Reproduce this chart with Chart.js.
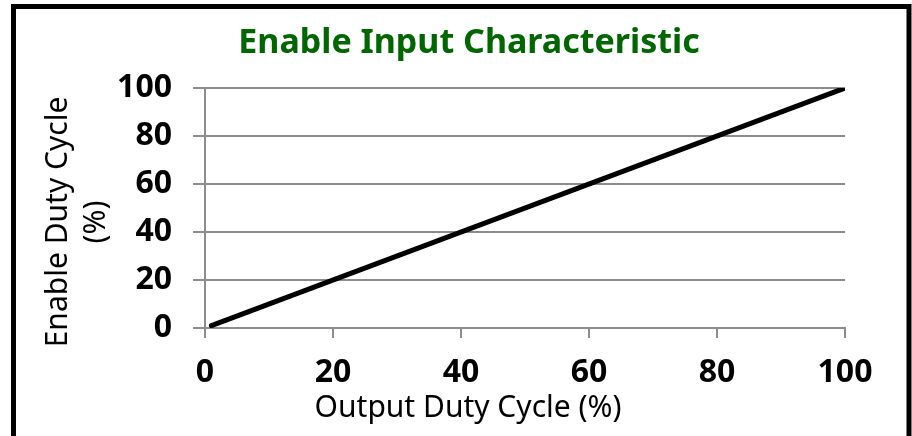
<!DOCTYPE html>
<html>
<head>
<meta charset="utf-8">
<script src="https://cdn.jsdelivr.net/npm/chart.js@4/dist/chart.umd.min.js"></script>
<style>
  html, body { margin: 0; padding: 0; background: #ffffff; }
  #wrap { width: 912px; height: 436px; position: relative; }
</style>
</head>
<body>
<div id="wrap"><canvas id="c" width="912" height="436"></canvas></div>
<script>
// ---- data ----
const chartTitle = "Enable Input Characteristic";
const xAxisTitle = "Output Duty Cycle (%)";
const yAxisTitle = ["Enable Duty Cycle", "(%)"];
const outputDuty = [1, 100];   // x values (%)
const enableDuty = [1, 100];   // y values (%)
const xTicks = [0, 20, 40, 60, 80, 100];
const yTicks = [0, 20, 40, 60, 80, 100];

const FONT = "'Noto Sans', 'Open Sans', sans-serif";
const GRID = '#8c8c8c';

const points = outputDuty.map((x, i) => ({ x: x, y: enableDuty[i] }));

const decor = {
  id: 'decor',
  afterDraw(chart) {
    const ctx = chart.ctx;
    ctx.save();
    // chart title
    ctx.fillStyle = '#006600';
    ctx.font = "bold 34px " + FONT;
    ctx.textAlign = 'center';
    ctx.textBaseline = 'alphabetic';
    ctx.fillText(chartTitle, 469, 53);
    // x axis title
    ctx.fillStyle = '#000000';
    ctx.font = "30px " + FONT;
    ctx.fillText(xAxisTitle, 468, 417);
    // y axis title (rotated, two lines)
    ctx.save();
    ctx.translate(67, 222);
    ctx.rotate(-Math.PI / 2);
    ctx.textAlign = 'center';
    yAxisTitle.forEach((t, i) => ctx.fillText(t, 0, i * 38));
    ctx.restore();
    // outer border
    ctx.strokeStyle = '#000000';
    ctx.lineWidth = 5;
    ctx.strokeRect(13.5, 6.5, 895.5, 445);
    ctx.restore();
  }
};

new Chart(document.getElementById('c'), {
  type: 'scatter',
  data: {
    datasets: [{
      data: points,
      showLine: true,
      borderColor: '#000000',
      backgroundColor: '#000000',
      borderWidth: 5,
      borderCapStyle: 'round',
      pointRadius: 0,
      pointHoverRadius: 0,
      tension: 0
    }]
  },
  options: {
    responsive: false,
    animation: false,
    events: [],
    layout: { padding: { left: 16, top: 88, right: 67, bottom: 0 } },
    plugins: {
      legend: { display: false },
      title: { display: false },
      tooltip: { enabled: false }
    },
    scales: {
      x: {
        type: 'linear',
        min: 0, max: 100,
        afterFit(scale) { scale.height = 108; },
        afterBuildTicks(scale) { scale.ticks = xTicks.map(v => ({ value: v })); },
        ticks: {
          color: '#000000',
          font: { family: FONT, size: 32, weight: 'bold' },
          padding: 16,
          maxRotation: 0,
          autoSkip: false
        },
        grid: {
          drawOnChartArea: false,
          drawTicks: true,
          tickLength: 10,
          color: GRID,
          lineWidth: 2
        },
        border: { display: true, color: GRID, width: 2 }
      },
      y: {
        type: 'linear',
        min: 0, max: 100,
        afterFit(scale) { scale.width = 189; },
        afterBuildTicks(scale) { scale.ticks = yTicks.map(v => ({ value: v })); },
        ticks: {
          color: '#000000',
          font: { family: FONT, size: 32, weight: 'bold' },
          padding: 21,
          autoSkip: false
        },
        grid: {
          drawTicks: true,
          tickLength: 12,
          color: GRID,
          lineWidth: 2
        },
        border: { display: true, color: GRID, width: 2 }
      }
    }
  },
  plugins: [decor]
});
</script>
</body>
</html>
